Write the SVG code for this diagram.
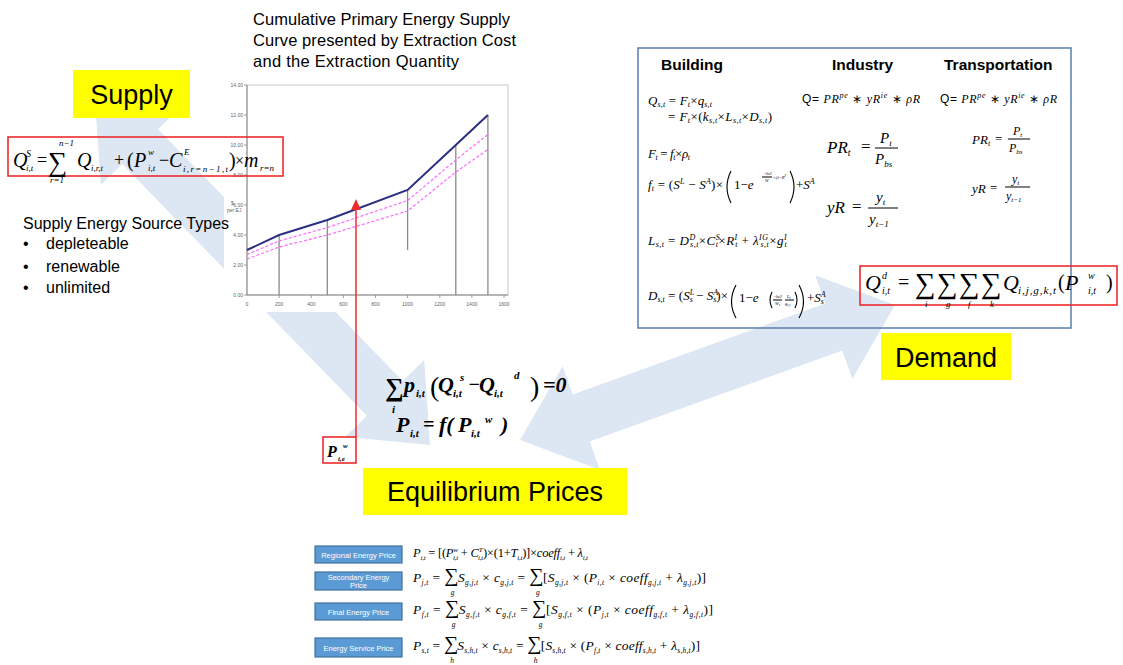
<svg xmlns="http://www.w3.org/2000/svg" width="1123" height="665" viewBox="0 0 1123 665">
<style>
.sans{font-family:"Liberation Sans",Arial,sans-serif;fill:#000}
.m{font-family:"Liberation Serif","Times New Roman",serif;font-style:italic;fill:#000}
.up{font-style:normal}
.lbl{font-family:"Liberation Sans",Arial,sans-serif;font-size:27px;fill:#000}
.hd{font-family:"Liberation Sans",Arial,sans-serif;font-size:15.5px;font-weight:bold;fill:#000}
.yel{fill:#ffff00}
.red{fill:none;stroke:#ee2b2b;stroke-width:1.6}
.bg{fill:#dce7f3}
.tick{font-family:"Liberation Sans",Arial,sans-serif;font-size:5px;fill:#666}
.pb{fill:#5b9bd5;stroke:#41719c;stroke-width:1.2}
.pt{font-family:"Liberation Sans",Arial,sans-serif;font-size:7.5px;fill:#fff}
.eq{font-family:"Liberation Serif","Times New Roman",serif;font-style:italic;font-weight:bold;fill:#000}
.vl{stroke:#8a8a8a;stroke-width:1.3}
.pk{fill:none;stroke:#ff66ff;stroke-width:1.2;stroke-dasharray:3 2}
.bar{stroke:#000;stroke-width:1}
.par{fill:none;stroke:#000;stroke-width:1.1}
</style>
<rect width="1123" height="665" fill="#fff"/>

<g id="connectors">
<polygon class="bg" points="95,100 100.8,184.9 122.3,164 366.9,415.8 345.4,436.7 430,445 424.2,360.1 402.7,381 158.1,129.2 179.6,108.3"/>
<polygon class="bg" points="520,440 599.8,469.8 589.7,441.5 842.3,350.5 852.4,378.8 895,305 815.2,275.2 825.3,303.5 572.7,394.5 562.6,366.2"/>
</g>

<g id="chart">
<rect x="224" y="80" width="292" height="232" fill="#fff"/>
<rect x="247" y="85" width="261" height="210" fill="none" stroke="#c8c8c8" stroke-width="1"/>
<line x1="247" y1="85" x2="247" y2="295" stroke="#888" stroke-width="1"/>
<line x1="247" y1="295" x2="508" y2="295" stroke="#888" stroke-width="1"/>
<g stroke="#888" stroke-width="0.8">
<line x1="244" y1="85" x2="247" y2="85"/><line x1="244" y1="115" x2="247" y2="115"/><line x1="244" y1="145" x2="247" y2="145"/><line x1="244" y1="175" x2="247" y2="175"/><line x1="244" y1="205" x2="247" y2="205"/><line x1="244" y1="235" x2="247" y2="235"/><line x1="244" y1="265" x2="247" y2="265"/><line x1="244" y1="295" x2="247" y2="295"/>
<line x1="279.1" y1="295" x2="279.1" y2="298"/><line x1="311.3" y1="295" x2="311.3" y2="298"/><line x1="343.4" y1="295" x2="343.4" y2="298"/><line x1="375.5" y1="295" x2="375.5" y2="298"/><line x1="407.6" y1="295" x2="407.6" y2="298"/><line x1="439.8" y1="295" x2="439.8" y2="298"/><line x1="471.9" y1="295" x2="471.9" y2="298"/><line x1="504" y1="295" x2="504" y2="298"/>
</g>
<g class="tick" text-anchor="end">
<text x="243" y="87">14.00</text><text x="243" y="117">12.00</text><text x="243" y="147">10.00</text><text x="243" y="177">8.00</text><text x="243" y="207">6.00</text><text x="243" y="237">4.00</text><text x="243" y="267">2.00</text><text x="243" y="297">0.00</text>
</g>
<g class="tick" text-anchor="middle">
<text x="247" y="306">0</text><text x="279.1" y="306">200</text><text x="311.3" y="306">400</text><text x="343.4" y="306">600</text><text x="375.5" y="306">800</text><text x="407.6" y="306">1000</text><text x="439.8" y="306">1200</text><text x="471.9" y="306">1400</text><text x="504" y="306">1600</text>
</g>
<text class="tick" x="231" y="205">$</text>
<text class="tick" x="227" y="212">per EJ</text>
<line class="vl" x1="279.1" y1="235" x2="279.1" y2="295" stroke="#b0b0b0"/>
<line class="vl" x1="327.3" y1="220" x2="327.3" y2="295"/>
<line class="vl" x1="407.6" y1="190" x2="407.6" y2="250"/>
<line class="vl" x1="455.8" y1="145" x2="455.8" y2="295"/>
<line class="vl" x1="487.9" y1="115" x2="487.9" y2="295"/>
<polyline class="pk" points="247,254.5 279.1,241 327.3,227.5 407.6,200.5 455.8,160 487.9,134.5"/>
<polyline class="pk" points="247,259 279.1,247 327.3,235 407.6,211 455.8,172 487.9,149.5"/>
<polyline fill="none" stroke="#2b2f80" stroke-width="2" points="247,250 279.1,235 327.3,220 407.6,190 455.8,145 487.9,115"/>
</g>

<g id="chart-title">
<text class="sans" font-size="16.5" x="253" y="25" textLength="257">Cumulative Primary Energy Supply</text>
<text class="sans" font-size="16.5" x="253" y="46" textLength="263">Curve presented by Extraction Cost</text>
<text class="sans" font-size="16.5" x="253" y="67" textLength="206">and the Extraction Quantity</text>
</g>

<g id="supply">
<rect class="yel" x="73" y="70" width="117" height="48"/>
<text class="lbl" x="131.5" y="104" text-anchor="middle">Supply</text>
</g>

<g id="supply-formula">
<rect class="red" x="8" y="137" width="275" height="39"/>
<text class="m" font-size="20" x="13" y="167">Q</text>
<text class="m" font-size="10" x="26" y="157">S</text>
<text class="m" font-size="9" x="26" y="171">i,t</text>
<text class="m up" font-size="18" x="37" y="166">=</text>
<text class="m up" font-size="27" x="48" y="171">∑</text>
<text class="m" font-size="9" x="59" y="146">n−1</text>
<text class="m" font-size="9" x="50" y="183">r=1</text>
<text class="m" font-size="20" x="77" y="167">Q</text>
<text class="m" font-size="9" x="91" y="171">i,r,t</text>
<text class="m up" font-size="18" x="114" y="166">+</text>
<text class="m up" font-size="20" x="127" y="167">(</text>
<text class="m" font-size="20" x="134" y="167">P</text>
<text class="m" font-size="9" x="148" y="155">w</text>
<text class="m" font-size="9" x="148" y="171">i,t</text>
<text class="m up" font-size="18" x="159" y="166">−</text>
<text class="m" font-size="20" x="169" y="167">C</text>
<text class="m" font-size="9" x="184" y="155">E</text>
<text class="m" font-size="9" x="183" y="172" textLength="45">i,r=n−1,t</text>
<text class="m up" font-size="20" x="229" y="167">)</text>
<text class="m up" font-size="16" x="235" y="166">×</text>
<text class="m" font-size="20" x="244" y="167">m</text>
<text class="m" font-size="9" x="260" y="171">r=n</text>
</g>

<g id="source-types">
<text class="sans" font-size="16" x="23" y="229">Supply Energy Source Types</text>
<text class="sans" font-size="16" x="23" y="249">•</text><text class="sans" font-size="16" x="46" y="249">depleteable</text>
<text class="sans" font-size="16" x="23" y="272">•</text><text class="sans" font-size="16" x="46" y="272">renewable</text>
<text class="sans" font-size="16" x="23" y="293">•</text><text class="sans" font-size="16" x="46" y="293">unlimited</text>
</g>

<g id="demand-panel">
<rect x="638" y="48" width="433" height="280" fill="none" stroke="#5a7fa8" stroke-width="1.5"/>
<text class="hd" x="661" y="70">Building</text>
<text class="hd" x="832" y="70">Industry</text>
<text class="hd" x="944" y="70">Transportation</text>

<text class="m" x="648" y="105" font-size="13" textLength="64">Q<tspan font-size="8" dy="2">s,t</tspan><tspan dy="-2" class="up"> = </tspan>F<tspan font-size="8" dy="2">t</tspan><tspan dy="-2" class="up">×</tspan>q<tspan font-size="8" dy="2">s,t</tspan></text>
<text class="m" x="668" y="121" font-size="13" textLength="104"><tspan class="up">= </tspan>F<tspan font-size="8" dy="2">t</tspan><tspan dy="-2" class="up">×(</tspan>k<tspan font-size="8" dy="2">s,t</tspan><tspan dy="-2" class="up">×</tspan>L<tspan font-size="8" dy="2">s,t</tspan><tspan dy="-2" class="up">×</tspan>D<tspan font-size="8" dy="2">s,t</tspan><tspan dy="-2" class="up">)</tspan></text>
<text class="m" x="648" y="158" font-size="13" textLength="42">F<tspan font-size="8" dy="2">t</tspan><tspan dy="-2" class="up"> = </tspan>f<tspan font-size="8" dy="2">t</tspan><tspan dy="-2" class="up">×</tspan>ρ<tspan font-size="8" dy="2">t</tspan></text>

<text class="m" x="648" y="189" font-size="13" textLength="75">f<tspan font-size="8" dy="2">t</tspan><tspan dy="-2" class="up"> = (</tspan>S<tspan font-size="8" dy="-5">L</tspan><tspan dy="5" class="up"> − </tspan>S<tspan font-size="8" dy="-5">A</tspan><tspan dy="5" class="up">)×</tspan></text>
<path class="par" d="M731,171 Q723,187 731,203"/>
<text class="m up" x="734" y="189" font-size="13">1−<tspan font-style="italic">e</tspan></text>
<text class="m" x="763" y="175" font-size="4.5">−ln2</text>
<line class="bar" x1="762" y1="177" x2="772" y2="177" stroke-width="0.5"/>
<text class="m" x="765" y="182" font-size="4.5">W</text>
<text class="m" x="773" y="179" font-size="4.5">×(t−R<tspan dy="-2" font-size="3.5">I</tspan></text>
<path class="par" d="M790,171 Q798,187 790,203"/>
<text class="m" x="796" y="189" font-size="13"><tspan class="up">+</tspan>S<tspan font-size="8" dy="-5">A</tspan></text>

<text class="m" x="648" y="245" font-size="13" textLength="139">L<tspan font-size="8" dy="2">s,t</tspan><tspan dy="-2" class="up"> = </tspan>D<tspan font-size="8" dy="-5">D</tspan><tspan font-size="8" dx="-5.5" dy="7">s,t</tspan><tspan dy="-2" class="up">×</tspan>C<tspan font-size="8" dy="-5">S</tspan><tspan font-size="8" dx="-4.5" dy="7">t</tspan><tspan dy="-2" class="up">×</tspan>R<tspan font-size="8" dy="-5">I</tspan><tspan font-size="8" dx="-2.5" dy="7">t</tspan><tspan dy="-2" class="up"> + </tspan>λ<tspan font-size="8" dy="-5">IG</tspan><tspan font-size="8" dx="-8" dy="7">s,t</tspan><tspan dy="-2" class="up">×</tspan>g<tspan font-size="8" dy="-5">I</tspan><tspan font-size="8" dx="-2.5" dy="7">t</tspan></text>

<text class="m" x="648" y="300" font-size="13" textLength="80">D<tspan font-size="8" dy="2">s,t</tspan><tspan dy="-2" class="up"> = (</tspan>S<tspan font-size="8" dy="-5">L</tspan><tspan font-size="8" dx="-4.5" dy="7">s</tspan><tspan dy="-2" class="up"> − </tspan>S<tspan font-size="8" dy="-5">A</tspan><tspan font-size="8" dx="-5" dy="7">s</tspan><tspan dy="-2" class="up">)×</tspan></text>
<path class="par" d="M736,285 Q727,301.5 736,318"/>
<text class="m up" x="739" y="302" font-size="13">1−<tspan font-style="italic">e</tspan></text>
<path class="par" d="M772,292 Q768,300 772,308" stroke-width="0.6"/>
<text class="m" x="773" y="298" font-size="4.5">−ln2</text>
<line class="bar" x1="773" y1="300" x2="782" y2="300" stroke-width="0.5"/>
<text class="m" x="775" y="305" font-size="4.5">W<tspan font-size="3.5" dy="1">s</tspan></text>
<text class="m" x="787" y="298" font-size="4.5">L<tspan font-size="3.5" dy="1">t</tspan></text>
<line class="bar" x1="785" y1="300" x2="794" y2="300" stroke-width="0.5"/>
<text class="m" x="785" y="305" font-size="4.5">g<tspan font-size="3.5" dy="1">s,t</tspan></text>
<path class="par" d="M795,292 Q799,300 795,308" stroke-width="0.6"/>
<path class="par" d="M799,285 Q808,301.5 799,318"/>
<text class="m" x="807" y="302" font-size="13"><tspan class="up">+</tspan>S<tspan font-size="8" dy="-5">A</tspan><tspan font-size="8" dx="-5" dy="7">s</tspan></text>

<text x="802" y="103" font-size="12" class="m" textLength="118"><tspan class="up" font-family="Liberation Sans">Q=</tspan> PR<tspan font-size="8" dy="-5">pe</tspan><tspan dy="5" class="up"> ∗ </tspan>yR<tspan font-size="8" dy="-5">ie</tspan><tspan dy="5" class="up"> ∗ </tspan>ρR</text>
<text x="940" y="103" font-size="12" class="m" textLength="117"><tspan class="up" font-family="Liberation Sans">Q=</tspan> PR<tspan font-size="8" dy="-5">pe</tspan><tspan dy="5" class="up"> ∗ </tspan>yR<tspan font-size="8" dy="-5">ie</tspan><tspan dy="5" class="up"> ∗ </tspan>ρR</text>

<text class="m" font-size="17" x="827" y="153">PR<tspan font-size="10" dy="3">t</tspan></text>
<text class="m up" font-size="17" x="861" y="152">=</text>
<line class="bar" x1="875" y1="148" x2="898" y2="148"/>
<text class="m" font-size="15" x="880" y="143">P<tspan font-size="9" dy="3">t</tspan></text>
<text class="m" font-size="15" x="875" y="164">P<tspan font-size="9" dy="3">bs</tspan></text>

<text class="m" font-size="17" x="827" y="213">yR</text>
<text class="m up" font-size="17" x="852" y="212">=</text>
<line class="bar" x1="868" y1="208" x2="898" y2="208"/>
<text class="m" font-size="15" x="876" y="202">y<tspan font-size="9" dy="3">t</tspan></text>
<text class="m" font-size="15" x="869" y="224">y<tspan font-size="9" dy="3">t−1</tspan></text>

<text class="m" font-size="13" x="972" y="144">PR<tspan font-size="8" dy="2">t</tspan></text>
<text class="m up" font-size="13" x="995" y="143">=</text>
<line class="bar" x1="1008" y1="139" x2="1030" y2="139"/>
<text class="m" font-size="12" x="1013" y="135">P<tspan font-size="7" dy="2">t</tspan></text>
<text class="m" font-size="12" x="1009" y="152">P<tspan font-size="7" dy="2">bs</tspan></text>

<text class="m" font-size="13" x="972" y="193">yR</text>
<text class="m up" font-size="13" x="990" y="192">=</text>
<line class="bar" x1="1005" y1="187" x2="1030" y2="187"/>
<text class="m" font-size="12" x="1012" y="183">y<tspan font-size="7" dy="2">t</tspan></text>
<text class="m" font-size="12" x="1006" y="200">y<tspan font-size="7" dy="2">t−1</tspan></text>
</g>

<g id="demand-formula">
<rect class="red" x="860" y="266" width="257" height="39"/>
<text class="m" font-size="22" x="865" y="290">Q</text>
<text class="m" font-size="10" x="882" y="279">d</text>
<text class="m" font-size="10" x="882" y="294">i,t</text>
<text class="m up" font-size="20" x="898" y="289">=</text>
<text class="m up" font-size="29" x="915" y="293">∑</text>
<text class="m up" font-size="29" x="937" y="293">∑</text>
<text class="m up" font-size="29" x="959" y="293">∑</text>
<text class="m up" font-size="29" x="981" y="293">∑</text>
<text class="m" font-size="9" x="925" y="307">i</text>
<text class="m" font-size="9" x="946" y="307">g</text>
<text class="m" font-size="9" x="968" y="307">f</text>
<text class="m" font-size="9" x="990" y="307">k</text>
<text class="m" font-size="22" x="1003" y="290">Q</text>
<text class="m" font-size="11" x="1018" y="294" textLength="38">i,j,g,k,t</text>
<text class="m up" font-size="20" x="1058" y="289">(</text>
<text class="m" font-size="22" x="1065" y="290">P</text>
<text class="m" font-size="10" x="1088" y="279">w</text>
<text class="m" font-size="10" x="1088" y="294">i,t</text>
<text class="m up" font-size="20" x="1106" y="289">)</text>
</g>

<g id="demand">
<rect class="yel" x="881" y="333" width="130" height="47"/>
<text class="lbl" x="946" y="367" text-anchor="middle">Demand</text>
</g>

<g id="equilibrium-equations">
<text class="eq up" font-size="26" x="385" y="396">∑</text>
<text class="eq" font-size="11" x="392" y="413">i</text>
<text class="eq" font-size="22" x="404" y="392">p</text>
<text class="eq" font-size="11" x="416" y="397">i,t</text>
<text class="m up" font-size="28" x="430" y="396">(</text>
<text class="eq" font-size="22" x="438" y="392">Q</text>
<text class="eq" font-size="11" x="453" y="397">i,t</text>
<text class="eq" font-size="11" x="460" y="381">s</text>
<text class="eq up" font-size="20" x="468" y="391">−</text>
<text class="eq" font-size="22" x="479" y="392">Q</text>
<text class="eq" font-size="11" x="494" y="397">i,t</text>
<text class="eq" font-size="11" x="514" y="379">d</text>
<text class="m up" font-size="28" x="530" y="396">)</text>
<text class="eq" font-size="22" x="543" y="392">=0</text>
<text class="eq" font-size="22" x="396" y="432">P</text>
<text class="eq" font-size="11" x="410" y="437">i,t</text>
<text class="eq up" font-size="20" x="423" y="431">=</text>
<text class="eq" font-size="22" x="439" y="432">f(</text>
<text class="eq" font-size="22" x="458" y="432">P</text>
<text class="eq" font-size="11" x="471" y="437">i,t</text>
<text class="eq" font-size="11" x="485" y="423">w</text>
<text class="eq" font-size="22" x="501" y="432">)</text>
</g>

<g id="world-price">
<rect class="red" x="323" y="437" width="33" height="26"/>
<text class="eq" font-size="16" x="327" y="457">P</text>
<text class="eq" font-size="7" x="338" y="461">i,e</text>
<text class="eq" font-size="7" x="343" y="448">w</text>
</g>

<g id="connectors-overlay">
<line x1="356" y1="437" x2="356" y2="208" stroke="#ee2b2b" stroke-width="1.5"/>
<polygon points="356,199 351,210 361,210" fill="#ee2b2b"/>
</g>

<g id="equilibrium">
<rect class="yel" x="363" y="468" width="264" height="47"/>
<text class="lbl" x="495" y="501" text-anchor="middle">Equilibrium Prices</text>
</g>

<g id="price-types">
<rect class="pb" x="315" y="546" width="87" height="17"/>
<text class="pt" x="358.5" y="557.5" text-anchor="middle">Regional Energy Price</text>
<rect class="pb" x="315" y="572" width="87" height="18"/>
<text class="pt" x="358.5" y="580" text-anchor="middle">Secondary Energy</text>
<text class="pt" x="358.5" y="588" text-anchor="middle">Price</text>
<rect class="pb" x="315" y="603" width="87" height="17"/>
<text class="pt" x="358.5" y="614.5" text-anchor="middle">Final Energy Price</text>
<rect class="pb" x="315" y="638" width="87" height="19"/>
<text class="pt" x="358.5" y="650.5" text-anchor="middle">Energy Service Price</text>

<text class="m" x="413" y="557" font-size="12.5" textLength="175">P<tspan font-size="7" dy="3">i,t</tspan><tspan dy="-3" class="up"> = [(</tspan>P<tspan font-size="7" dy="-5">w</tspan><tspan font-size="7" dx="-4.7" dy="8">i,t</tspan><tspan dy="-3" class="up"> + </tspan>C<tspan font-size="7" dy="-5">T</tspan><tspan font-size="7" dx="-4" dy="8">i,t</tspan><tspan dy="-3" class="up">)×(1+</tspan>T<tspan font-size="7" dy="3">i,t</tspan><tspan dy="-3" class="up">)]×</tspan>coeff<tspan font-size="7" dy="3">i,t</tspan><tspan dy="-3" class="up"> + </tspan>λ<tspan font-size="7" dy="3">i,t</tspan></text>

<text class="m" x="413" y="582" font-size="13.5" textLength="293">P<tspan font-size="7.5" dy="3">j,t</tspan><tspan dy="-3" class="up"> = </tspan><tspan class="up" font-size="20">∑</tspan><tspan font-size="7.5" dx="-8" dy="13">g</tspan><tspan dx="3" dy="-13">S</tspan><tspan font-size="7.5" dy="3">g,j,t</tspan><tspan dy="-3" class="up"> × </tspan>c<tspan font-size="7.5" dy="3">g,j,t</tspan><tspan dy="-3" class="up"> = </tspan><tspan class="up" font-size="20">∑</tspan><tspan font-size="7.5" dx="-8" dy="13">g</tspan><tspan dx="3" dy="-13" class="up">[</tspan>S<tspan font-size="7.5" dy="3">g,j,t</tspan><tspan dy="-3" class="up"> × (</tspan>P<tspan font-size="7.5" dy="3">i,t</tspan><tspan dy="-3" class="up"> × </tspan>coeff<tspan font-size="7.5" dy="3">g,j,t</tspan><tspan dy="-3" class="up"> + </tspan>λ<tspan font-size="7.5" dy="3">g,j,t</tspan><tspan dy="-3" class="up">)]</tspan></text>

<text class="m" x="413" y="614" font-size="13.5" textLength="300">P<tspan font-size="7.5" dy="3">f,t</tspan><tspan dy="-3" class="up"> = </tspan><tspan class="up" font-size="20">∑</tspan><tspan font-size="7.5" dx="-8" dy="13">g</tspan><tspan dx="3" dy="-13">S</tspan><tspan font-size="7.5" dy="3">g,f,t</tspan><tspan dy="-3" class="up"> × </tspan>c<tspan font-size="7.5" dy="3">g,f,t</tspan><tspan dy="-3" class="up"> = </tspan><tspan class="up" font-size="20">∑</tspan><tspan font-size="7.5" dx="-8" dy="13">g</tspan><tspan dx="3" dy="-13" class="up">[</tspan>S<tspan font-size="7.5" dy="3">g,f,t</tspan><tspan dy="-3" class="up"> × (</tspan>P<tspan font-size="7.5" dy="3">j,t</tspan><tspan dy="-3" class="up"> × </tspan>coeff<tspan font-size="7.5" dy="3">g,f,t</tspan><tspan dy="-3" class="up"> + </tspan>λ<tspan font-size="7.5" dy="3">g,f,t</tspan><tspan dy="-3" class="up">)]</tspan></text>

<text class="m" x="413" y="650" font-size="13.5" textLength="287">P<tspan font-size="7.5" dy="3">s,t</tspan><tspan dy="-3" class="up"> = </tspan><tspan class="up" font-size="20">∑</tspan><tspan font-size="7.5" dx="-8" dy="13">h</tspan><tspan dx="3" dy="-13">S</tspan><tspan font-size="7.5" dy="3">s,h,t</tspan><tspan dy="-3" class="up"> × </tspan>c<tspan font-size="7.5" dy="3">s,h,t</tspan><tspan dy="-3" class="up"> = </tspan><tspan class="up" font-size="20">∑</tspan><tspan font-size="7.5" dx="-8" dy="13">h</tspan><tspan dx="3" dy="-13" class="up">[</tspan>S<tspan font-size="7.5" dy="3">s,h,t</tspan><tspan dy="-3" class="up"> × (</tspan>P<tspan font-size="7.5" dy="3">f,t</tspan><tspan dy="-3" class="up"> × </tspan>coeff<tspan font-size="7.5" dy="3">s,h,t</tspan><tspan dy="-3" class="up"> + </tspan>λ<tspan font-size="7.5" dy="3">s,h,t</tspan><tspan dy="-3" class="up">)]</tspan></text>
</g>
</svg>
